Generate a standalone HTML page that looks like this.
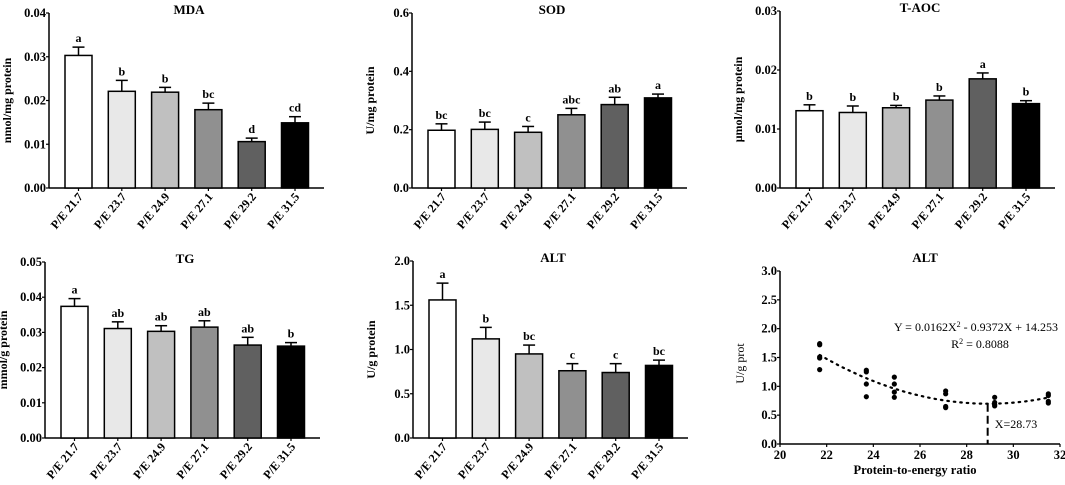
<!DOCTYPE html>
<html><head><meta charset="utf-8"><style>
body{margin:0;background:#fff}
svg text{font-family:"Liberation Serif",serif;font-weight:bold;fill:#000}
</style></head><body>
<svg id="c" width="1065" height="480" xmlns="http://www.w3.org/2000/svg"></svg>
<script>
const cats=["P/E 21.7","P/E 23.7","P/E 24.9","P/E 27.1","P/E 29.2","P/E 31.5"];
const fills=["#ffffff","#e8e8e8","#c0c0c0","#909090","#606060","#000000"];
const mdaVals=[0.0303,0.0221,0.0219,0.0179,0.0106,0.0149];
const mdaErr=[0.0019,0.0025,0.0011,0.0015,0.0008,0.0014];
const mdaLet=["a","b","b","bc","d","cd"];
const mdaTicks=["0.00","0.01","0.02","0.03","0.04"];
const sodVals=[0.198,0.201,0.191,0.251,0.286,0.309];
const sodErr=[0.022,0.025,0.02,0.022,0.025,0.013];
const sodLet=["bc","bc","c","abc","ab","a"];
const sodTicks=["0.0","0.2","0.4","0.6"];
const taocVals=[0.0131,0.0128,0.0136,0.0149,0.0185,0.0143];
const taocErr=[0.001,0.0011,0.0004,0.0007,0.001,0.0005];
const taocLet=["b","b","b","b","a","b"];
const taocTicks=["0.00","0.01","0.02","0.03"];
const tgVals=[0.0374,0.0311,0.0303,0.0315,0.0264,0.0261];
const tgErr=[0.0022,0.0019,0.0016,0.0018,0.0022,0.001];
const tgLet=["a","ab","ab","ab","ab","b"];
const tgTicks=["0.00","0.01","0.02","0.03","0.04","0.05"];
const altVals=[1.56,1.12,0.95,0.76,0.74,0.82];
const altErr=[0.19,0.13,0.10,0.08,0.10,0.06];
const altLet=["a","b","bc","c","c","bc"];
const altTicks=["0.0","0.5","1.0","1.5","2.0"];
const scX=[21.7,21.7,21.7,21.7,21.7,23.7,23.7,23.7,23.7,24.9,24.9,24.9,24.9,27.1,27.1,27.1,27.1,29.2,29.2,29.2,29.2,31.5,31.5,31.5,31.5];
const scY=[1.74,1.72,1.51,1.49,1.29,1.28,1.25,1.04,0.82,1.16,1.04,0.90,0.81,0.92,0.87,0.65,0.63,0.81,0.72,0.68,0.66,0.87,0.84,0.74,0.71];
const coef=[0.0162,-0.9372,14.253];
const optX=28.9;
const scXTicks=["20","22","24","26","28","30","32"];
const scYTicks=["0.0","0.5","1.0","1.5","2.0","2.5","3.0"];

const svg=document.getElementById('c');const NS="http://www.w3.org/2000/svg";
function el(tag,attrs,parent){const e=document.createElementNS(NS,tag);for(const k in attrs)e.setAttribute(k,attrs[k]);(parent||svg).appendChild(e);return e;}
function txt(s,attrs,parent){const t=el('text',attrs,parent);t.textContent=s;return t;}

function barPanel(name,title,ytitle,ax,top,zero,vals,errs,lets,ticks){
  const g=el('g',{});
  
  
  const ymax=parseFloat(ticks[ticks.length-1]);
  const y=v=>zero-(v/ymax)*(zero-top);
  const axEnd=ax+275;
  const tt=txt(title,{x:ax+140,y:top+1,'font-size':13,'text-anchor':'middle'},g);
  
  const yt=txt(ytitle,{x:0,y:0,'font-size':12,'text-anchor':'middle',transform:`translate(${ax-38},${(top+zero)/2}) rotate(-90)`},g);
  
  el('line',{x1:ax,y1:top,x2:ax,y2:zero,stroke:'#000','stroke-width':1.5},g);
  el('line',{x1:ax,y1:zero,x2:axEnd,y2:zero,stroke:'#000','stroke-width':1.5},g);
  ticks.forEach(t=>{const yy=y(parseFloat(t));
    el('line',{x1:ax-3,y1:yy,x2:ax,y2:yy,stroke:'#000','stroke-width':1.2},g);
    const l=txt(t,{x:ax-3,y:yy+4,'font-size':12.5,'text-anchor':'end'},g);
    });
  vals.forEach((v,i)=>{const x0=ax+16+i*43.3,w=27,cx=x0+w/2;
    const b=el('rect',{x:x0,y:y(v),width:w,height:zero-y(v),fill:fills[i],stroke:'#000','stroke-width':1.5},g);
    
    const ye=y(v+errs[i]);
    el('line',{x1:cx,y1:y(v),x2:cx,y2:ye,stroke:'#000','stroke-width':1.5},g);
    el('line',{x1:cx-6,y1:ye,x2:cx+6,y2:ye,stroke:'#000','stroke-width':1.5},g);
    const lt=txt(lets[i],{x:cx,y:ye-5,'font-size':12,'text-anchor':'middle'},g);
    
    el('line',{x1:cx,y1:zero,x2:cx,y2:zero+3,stroke:'#000','stroke-width':1.2},g);
    const xl=txt(cats[i],{x:0,y:0,'font-size':12,'text-anchor':'end',transform:`translate(${cx+5},${zero+9}) rotate(-50)`},g);
    
  });
}
barPanel('mda','MDA','nmol/mg protein',49,13,188,mdaVals,mdaErr,mdaLet,mdaTicks);
barPanel('sod','SOD','U/mg protein',412,13,188,sodVals,sodErr,sodLet,sodTicks);
barPanel('taoc','T-AOC','μmol/mg protein',780,11,188,taocVals,taocErr,taocLet,taocTicks);
barPanel('tg','TG','mmol/g protein',45,262,438,tgVals,tgErr,tgLet,tgTicks);
barPanel('alt','ALT','U/g protein',413,261,438,altVals,altErr,altLet,altTicks);

(function(){
  const g=el('g',{});
  
  
  const ax=780,axR=1060,top=271,zero=444;
  const xmin=parseFloat(scXTicks[0]),xmax=parseFloat(scXTicks[scXTicks.length-1]);
  const ymax=parseFloat(scYTicks[scYTicks.length-1]);
  const X=v=>ax+(v-xmin)/(xmax-xmin)*(axR-ax);
  const Y=v=>zero-v/ymax*(zero-top);
  const tt=txt('ALT',{x:925,y:262,'font-size':13,'text-anchor':'middle'},g);
  
  el('line',{x1:ax,y1:top,x2:ax,y2:zero,stroke:'#000','stroke-width':1.5},g);
  el('line',{x1:ax,y1:zero,x2:axR,y2:zero,stroke:'#000','stroke-width':1.5},g);
  scYTicks.forEach(t=>{const yy=Y(parseFloat(t));
    el('line',{x1:ax-3,y1:yy,x2:ax,y2:yy,stroke:'#000','stroke-width':1.2},g);
    const l=txt(t,{x:ax-3,y:yy+4,'font-size':12.5,'text-anchor':'end'},g);
    });
  scXTicks.forEach(t=>{const xx=X(parseFloat(t));
    el('line',{x1:xx,y1:zero,x2:xx,y2:zero+3,stroke:'#000','stroke-width':1.2},g);
    const l=txt(t,{x:xx,y:zero+15,'font-size':12.5,'text-anchor':'middle'},g);
    });
  const yt=txt('U/g prot',{x:0,y:0,'font-size':12,style:'font-weight:normal','text-anchor':'middle',transform:`translate(${ax-36},${(top+zero)/2+6}) rotate(-90)`},g);
  
  const xt=txt('Protein-to-energy ratio',{x:(ax+axR)/2-5,y:474,'font-size':12.5,'text-anchor':'middle'},g);
  
  let d='';for(let i=0;i<=60;i++){const xv=scX[0]+(scX[scX.length-1]-scX[0])*i/60;const yv=coef[0]*xv*xv+coef[1]*xv+coef[2];d+=(i?'L':'M')+X(xv).toFixed(1)+','+Y(yv).toFixed(1);}
  const c=el('path',{d:d,fill:'none',stroke:'#000','stroke-width':2.2,'stroke-dasharray':'1.5 5','stroke-linecap':'round'},g);
  
  const yo=coef[0]*optX*optX+coef[1]*optX+coef[2];
  const v=el('line',{x1:X(optX),y1:Y(yo),x2:X(optX),y2:zero,stroke:'#000','stroke-width':2,'stroke-dasharray':'8 4'},g);
  
  scX.forEach((xv,i)=>{const p=el('circle',{cx:X(xv),cy:Y(scY[i]),r:2.6,fill:'#000'},g);
    });
  const eq=el('text',{x:976,y:331,'font-size':12,'text-anchor':'middle',style:'font-weight:normal'},g);
  eq.innerHTML='Y = 0.0162X<tspan dy="-4" font-size="8">2</tspan><tspan dy="4"> - 0.9372X + 14.253</tspan>';
  
  const r2=el('text',{x:980,y:348,'font-size':12,'text-anchor':'middle',style:'font-weight:normal'},g);
  r2.innerHTML='R<tspan dy="-4" font-size="8">2</tspan><tspan dy="4"> = 0.8088</tspan>';
  
  const xo=txt('X=28.73',{x:1016,y:428,'font-size':12,'text-anchor':'middle',style:'font-weight:normal'},g);
  
})();
</script>
</body></html>
